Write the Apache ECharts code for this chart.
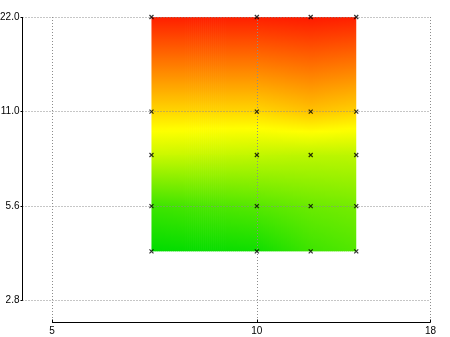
<!DOCTYPE html>
<html><head><meta charset="utf-8">
<script src="https://cdn.jsdelivr.net/npm/echarts@6/dist/echarts.min.js"></script>
<style>html,body{margin:0;padding:0;background:#fff}#c{width:450px;height:337px}</style>
</head><body><div id="c"></div>
<script>
// ---- data ----
const xValues = [7, 10, 12, 14];
const yValues = [3.95, 5.5, 8, 11, 22];
// rows follow yValues (bottom to top), columns follow xValues
const zRowA = [0.00, 0.03, 0.12, 0.16];
const zRowB = [0.12, 0.17, 0.21, 0.23];
const zRowC = [0.40, 0.38, 0.37, 0.37];
const zRowD = [0.58, 0.58, 0.62, 0.59];
const zRowE = [0.94, 0.94, 0.95, 0.94];
const zValues = [zRowA, zRowB, zRowC, zRowD, zRowE];
const xTicks = [5, 10, 18];
const xTickLabels = ['5', '10', '18'];
const yTicks = [2.75, 5.5, 11, 22];
const yTickLabels = ['2.8', '5.6', '11.0', '22.0'];
const xRange = [4.524, 18];
const yRange = [2.3442, 22];
const rampStops = [0, 0.5, 1];
const rampColors = [[0, 220, 0], [255, 255, 0], [255, 0, 0]];

function rampColor(t) {
  t = Math.max(0, Math.min(1, t));
  for (let i = 0; i < rampStops.length - 1; i++) {
    if (t <= rampStops[i + 1]) {
      const f = (t - rampStops[i]) / (rampStops[i + 1] - rampStops[i]);
      const a = rampColors[i], b = rampColors[i + 1];
      return 'rgb(' + [0, 1, 2].map(k => Math.round(a[k] + (b[k] - a[k]) * f)).join(',') + ')';
    }
  }
  const c = rampColors[rampColors.length - 1];
  return 'rgb(' + c.join(',') + ')';
}

const cells = [];
for (let j = 0; j < yValues.length - 1; j++) {
  for (let i = 0; i < xValues.length - 1; i++) {
    cells.push([xValues[i], yValues[j], xValues[i + 1], yValues[j + 1],
      zValues[j][i], zValues[j][i + 1], zValues[j + 1][i], zValues[j + 1][i + 1],
      i === xValues.length - 2 ? 1 : 0, j === yValues.length - 2 ? 1 : 0]);
  }
}
const points = [];
yValues.forEach(y => xValues.forEach(x => points.push([x, y])));

function renderCell(params, api) {
  const p0 = api.coord([api.value(0), api.value(1)]);
  const p1 = api.coord([api.value(2), api.value(3)]);
  const z00 = api.value(4), z10 = api.value(5), z01 = api.value(6), z11 = api.value(7);
  const lastCol = api.value(8) === 1, topRow = api.value(9) === 1;
  const left = p0[0], right = p1[0], top = p1[1], bottom = p0[1];
  const w = right - left, h = bottom - top;
  const n = Math.max(1, Math.ceil(w / 2));
  const ns = Math.max(2, Math.ceil(h / 3));
  const children = [];
  for (let k = 0; k < n; k++) {
    const u = (k + 0.5) / n;
    const zb = z00 + (z10 - z00) * u;
    const zt = z01 + (z11 - z01) * u;
    const stops = [];
    for (let s = 0; s <= ns; s++) {
      const v = s / ns;
      stops.push({ offset: v, color: rampColor(zt + (zb - zt) * v) });
    }
    const ox = (k < n - 1 || !lastCol) ? 0.7 : 0;
    const oy = topRow ? 0 : 0.7;
    children.push({
      type: 'rect',
      shape: { x: left + k * w / n, y: top - oy, width: w / n + ox, height: h + oy },
      style: { fill: new echarts.graphic.LinearGradient(0, 0, 0, 1, stops), stroke: null }
    });
  }
  return { type: 'group', children: children };
}

const font = { fontFamily: '"Liberation Sans Narrow", "Liberation Sans", sans-serif', fontSize: 10, color: '#000' };
const gridLine = { show: true, lineStyle: { color: '#8c8c8c', type: [1, 2], width: 1 } };

const chart = echarts.init(document.getElementById('c'), null, { renderer: 'canvas' });
chart.setOption({
  animation: false,
  backgroundColor: '#fff',
  grid: { left: 22.5, right: 19.5, top: 17, bottom: 14.5, containLabel: false, outerBoundsMode: 'none' },
  xAxis: {
    type: 'log', logBase: 10, min: xRange[0], max: xRange[1], z: 3,
    axisLine: { show: false },
    axisTick: { show: true, inside: true, length: 3, customValues: xTicks, lineStyle: { color: '#000' } },
    axisLabel: Object.assign({ margin: 4, customValues: xTicks,
      formatter: v => { const i = xTicks.findIndex(t => Math.abs(t - v) < 1e-6); return i >= 0 ? xTickLabels[i] : ''; } }, font),
    splitLine: gridLine, minorTick: { show: false }, minorSplitLine: { show: false }
  },
  yAxis: {
    type: 'log', logBase: 10, min: yRange[0], max: yRange[1], z: 3,
    axisLine: { show: false },
    axisTick: { show: true, inside: false, length: 2, customValues: yTicks, lineStyle: { color: '#000' } },
    axisLabel: Object.assign({ margin: 3, customValues: yTicks,
      formatter: v => { const i = yTicks.findIndex(t => Math.abs(t - v) < 1e-6); return i >= 0 ? yTickLabels[i] : ''; } }, font),
    splitLine: gridLine, minorTick: { show: false }, minorSplitLine: { show: false }
  },
  series: [
    { type: 'custom', z: 1, renderItem: renderCell, data: cells, clip: false,
      encode: { x: [0, 2], y: [1, 3] }, silent: true },
    { type: 'scatter', z: 5, data: points, symbol: 'path://M0 0L10 10M10 0L0 10', symbolSize: 4,
      itemStyle: { color: 'none', borderColor: '#000', borderWidth: 1.2 }, silent: true },
    { type: 'line', z: 6, clip: false, symbol: 'none', silent: true,
      data: [[xRange[0], yTicks[0]], [xRange[0], yTicks[yTicks.length - 1]]],
      lineStyle: { color: '#000', width: 1 } },
    { type: 'line', z: 6, clip: false, symbol: 'none', silent: true,
      data: [[xTicks[0], yRange[0]], [xTicks[xTicks.length - 1], yRange[0]]],
      lineStyle: { color: '#000', width: 1 } }
  ]
});
</script></body></html>
